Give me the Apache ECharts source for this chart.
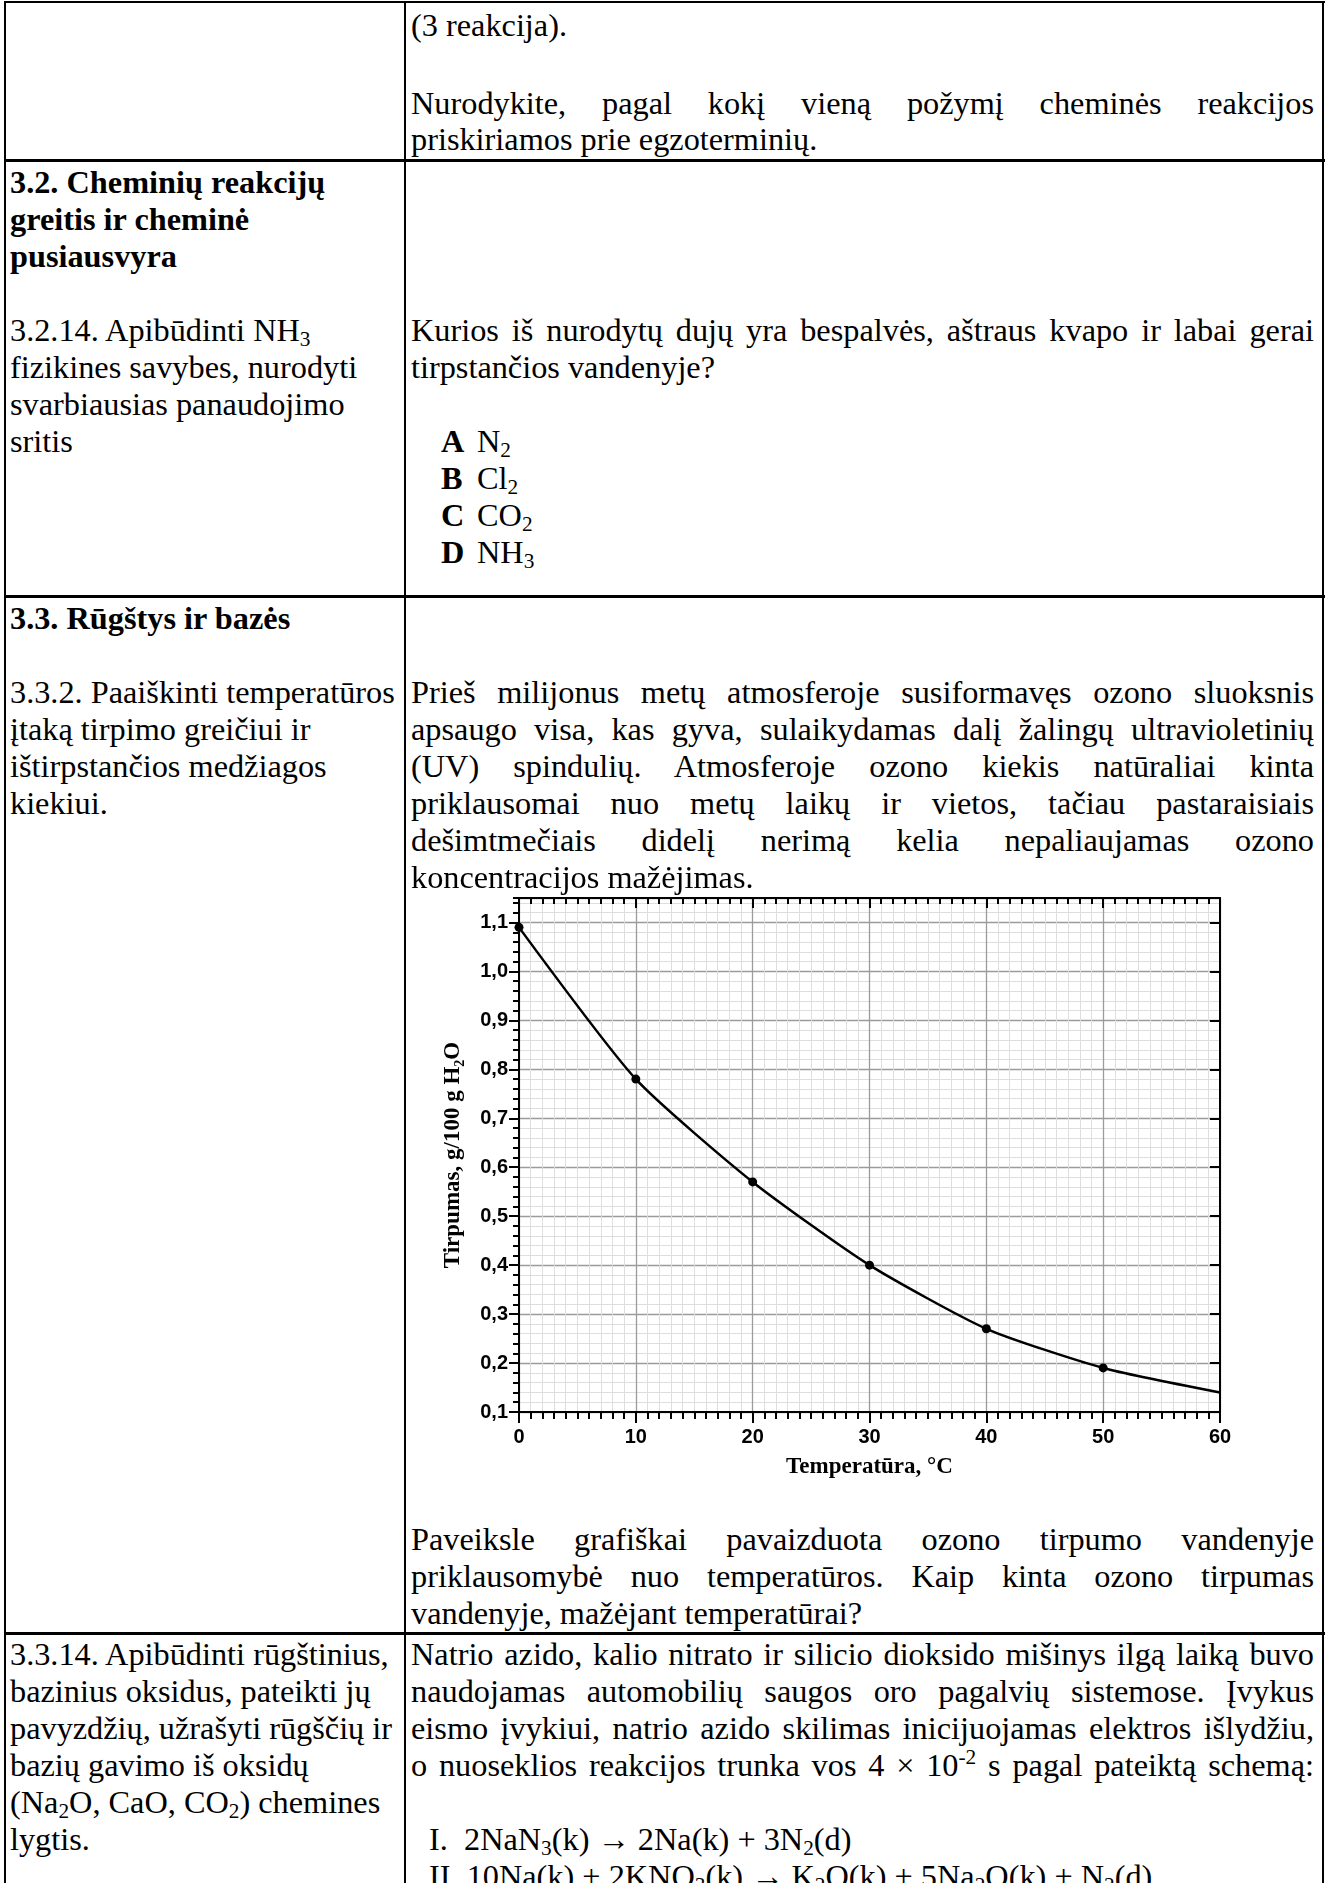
<!DOCTYPE html>
<html lang="lt">
<head>
<meta charset="utf-8">
<script src="https://cdn.jsdelivr.net/npm/echarts@6/dist/echarts.min.js"></script>
<style>
  html, body { margin: 0; padding: 0; background: #fff; }
  #page { position: relative; width: 1329px; height: 1883px; overflow: hidden; background: #fff;
          font-family: "Liberation Serif", "Times New Roman", serif; font-size: 32.3px; color: #000; }
  .ln { position: absolute; height: 37px; line-height: 37px; white-space: nowrap; }
  .j { white-space: normal; text-align: justify; text-align-last: justify; overflow: hidden; }
  .hl { position: absolute; background: #000; }
  sub { font-size: 0.66em; line-height: 0; vertical-align: -0.22em; }
  sup { font-size: 0.66em; line-height: 0; vertical-align: 0.55em; }
  #chart { position: absolute; left: 405px; top: 870px; width: 918px; height: 640px; }
</style>
</head>
<body>
<div id="page">
  <div id="chart"></div>
</div>
<script>
// ---------- chart data ----------
const temperatures = [0, 10, 20, 30, 40, 50, 60];
const solubility   = [1.09, 0.78, 0.57, 0.40, 0.27, 0.19, 0.14];
const xTickLabels  = ['0', '10', '20', '30', '40', '50', '60'];
const yTickLabels  = ['0,1', '0,2', '0,3', '0,4', '0,5', '0,6', '0,7', '0,8', '0,9', '1,0', '1,1'];
const xTitle = 'Temperatūra, °C';
const yTitle = 'Tirpumas, g/100 g H{s|2}O';

// ---------- page text layout ----------
const C1 = 10, C2 = 411, W2 = 903;
const P = 37;
// [column, centerY, html, justify, dx]
const lines = [
  [2, 25, '(3 reakcija).'],
  [2, 103, 'Nurodykite, pagal kokį vieną požymį cheminės reakcijos', 1],
  [2, 139, 'priskiriamos prie egzoterminių.'],
  [1, 182, '<b>3.2. Cheminių reakcijų</b>'],
  [1, 219, '<b>greitis ir cheminė</b>'],
  [1, 256, '<b>pusiausvyra</b>'],
  [1, 330, '3.2.14. Apibūdinti NH<sub>3</sub>'],
  [1, 367, 'fizikines savybes, nurodyti'],
  [1, 404, 'svarbiausias panaudojimo'],
  [1, 441, 'sritis'],
  [2, 330, 'Kurios iš nurodytų dujų yra bespalvės, aštraus kvapo ir labai gerai', 1],
  [2, 367, 'tirpstančios vandenyje?'],
  [2, 441, '<b>A</b>', 0, 30],
  [2, 441, 'N<sub>2</sub>', 0, 66],
  [2, 478, '<b>B</b>', 0, 30],
  [2, 478, 'Cl<sub>2</sub>', 0, 66],
  [2, 515, '<b>C</b>', 0, 30],
  [2, 515, 'CO<sub>2</sub>', 0, 66],
  [2, 552, '<b>D</b>', 0, 30],
  [2, 552, 'NH<sub>3</sub>', 0, 66],
  [1, 618, '<b>3.3. Rūgštys ir bazės</b>'],
  [1, 692, '3.3.2. Paaiškinti temperatūros'],
  [1, 729, 'įtaką tirpimo greičiui ir'],
  [1, 766, 'ištirpstančios medžiagos'],
  [1, 803, 'kiekiui.'],
  [2, 692, 'Prieš milijonus metų atmosferoje susiformavęs ozono sluoksnis', 1],
  [2, 729, 'apsaugo visa, kas gyva, sulaikydamas dalį žalingų ultravioletinių', 1],
  [2, 766, '(UV) spindulių. Atmosferoje ozono kiekis natūraliai kinta', 1],
  [2, 803, 'priklausomai nuo metų laikų ir vietos, tačiau pastaraisiais', 1],
  [2, 840, 'dešimtmečiais didelį nerimą kelia nepaliaujamas ozono', 1],
  [2, 877, 'koncentracijos mažėjimas.'],
  [2, 1539, 'Paveiksle grafiškai pavaizduota ozono tirpumo vandenyje', 1],
  [2, 1576, 'priklausomybė nuo temperatūros. Kaip kinta ozono tirpumas', 1],
  [2, 1613, 'vandenyje, mažėjant temperatūrai?'],
  [1, 1654, '3.3.14. Apibūdinti rūgštinius,'],
  [1, 1691, 'bazinius oksidus, pateikti jų'],
  [1, 1728, 'pavyzdžių, užrašyti rūgščių ir'],
  [1, 1765, 'bazių gavimo iš oksidų'],
  [1, 1802, '(Na<sub>2</sub>O, CaO, CO<sub>2</sub>) chemines'],
  [1, 1839, 'lygtis.'],
  [2, 1654, 'Natrio azido, kalio nitrato ir silicio dioksido mišinys ilgą laiką buvo', 1],
  [2, 1691, 'naudojamas automobilių saugos oro pagalvių sistemose. Įvykus', 1],
  [2, 1728, 'eismo įvykiui, natrio azido skilimas inicijuojamas elektros išlydžiu,', 1],
  [2, 1765, 'o nuoseklios reakcijos trunka vos 4 × 10<sup>-2</sup> s pagal pateiktą schemą:', 1],
  [2, 1839, 'I.&nbsp; 2NaN<sub>3</sub>(k) → 2Na(k) + 3N<sub>2</sub>(d)', 0, 18],
  [2, 1876, 'II. 10Na(k) + 2KNO<sub>3</sub>(k) → K<sub>2</sub>O(k) + 5Na<sub>2</sub>O(k) + N<sub>2</sub>(d)', 0, 18]
];
// table rules: [x, y, w, h]
const rules = [
  [4, 1, 1321, 2],
  [4, 159, 1321, 3],
  [4, 595, 1321, 3],
  [4, 1632, 1321, 3],
  [4, 1, 2, 1882],
  [404, 1, 2, 1882],
  [1322, 1, 2, 1882]
];

const page = document.getElementById('page');
rules.forEach(r => {
  const d = document.createElement('div');
  d.className = 'hl';
  d.style.left = r[0] + 'px'; d.style.top = r[1] + 'px';
  d.style.width = r[2] + 'px'; d.style.height = r[3] + 'px';
  page.appendChild(d);
});
lines.forEach(l => {
  const d = document.createElement('div');
  d.className = 'ln' + (l[3] ? ' j' : '');
  const x0 = (l[0] === 1 ? C1 : C2) + (l[4] || 0);
  d.style.left = x0 + 'px';
  d.style.top = (l[1] - P / 2) + 'px';
  if (l[3]) d.style.width = W2 + 'px';
  d.innerHTML = l[2];
  page.appendChild(d);
});

// ---------- chart ----------
const chart = echarts.init(document.getElementById('chart'), null, { renderer: 'canvas' });
const black = '#000';
const labelFont = { fontFamily: 'Liberation Sans, Arial, sans-serif', fontWeight: 'bold', fontSize: 20, color: black };
const titleFont = { fontFamily: 'Liberation Serif, Times New Roman, serif', fontWeight: 'bold', fontSize: 23, color: black };

function yLabel(v) {
  const i = Math.round((v - 0.1) / 0.1);
  if (Math.abs(v - (0.1 + i * 0.1)) < 1e-6 && i >= 0 && i < yTickLabels.length) return yTickLabels[i];
  return '';
}
function xLabel(v) {
  const i = temperatures.indexOf(v);
  return i >= 0 ? xTickLabels[i] : '';
}

chart.setOption({
  backgroundColor: 'transparent',
  animation: false,
  grid: { left: 114, top: 28, width: 701, height: 514, containLabel: false },
  xAxis: [
    {
      type: 'value', position: 'bottom', min: 0, max: 60, interval: 10,
      axisLine: { onZero: false, lineStyle: { color: black, width: 2 } },
      axisTick: { inside: false, length: 11, lineStyle: { color: black, width: 2 } },
      minorTick: { show: true, splitNumber: 10, length: 7, lineStyle: { color: black, width: 2 } },
      splitLine: { show: true, lineStyle: { color: '#9b9b9b', width: 1.3 } },
      minorSplitLine: { show: true, lineStyle: { color: '#dedede', width: 1 } },
      axisLabel: Object.assign({ margin: 15, formatter: xLabel }, labelFont),
      name: xTitle, nameLocation: 'middle', nameGap: 44, nameTextStyle: titleFont
    },
    {
      type: 'value', position: 'top', min: 0, max: 60, interval: 10,
      axisLine: { onZero: false, lineStyle: { color: black, width: 2 } },
      axisTick: { inside: true, length: 10, lineStyle: { color: black, width: 2 } },
      minorTick: { show: true, splitNumber: 10, length: 6, lineStyle: { color: black, width: 2 } },
      splitLine: { show: false }, axisLabel: { show: false }
    }
  ],
  yAxis: [
    {
      type: 'value', position: 'left', min: 0.1, max: 1.15, interval: 0.02,
      axisLine: { show: false },
      axisTick: { inside: false, length: 6, lineStyle: { color: black, width: 2 } },
      splitLine: { show: true, lineStyle: { color: '#dedede', width: 1 } },
      axisLabel: { show: false }
    },
    {
      type: 'value', position: 'left', min: 0.1, max: 1.15, interval: 0.1,
      axisLine: { show: true, onZero: false, lineStyle: { color: black, width: 2 } },
      axisTick: { inside: false, length: 10, lineStyle: { color: black, width: 2 } },
      splitLine: { show: true, lineStyle: { color: '#9b9b9b', width: 1.3 } },
      axisLabel: Object.assign({ margin: 11, formatter: yLabel, showMaxLabel: false }, labelFont),
      name: yTitle, nameLocation: 'middle', nameGap: 52,
      nameTextStyle: Object.assign({ lineHeight: 28, rich: {
        s: { fontFamily: 'Liberation Serif, serif', fontWeight: 'bold', fontSize: 14, lineHeight: 14, verticalAlign: 'bottom', color: black }
      } }, titleFont)
    },
    {
      type: 'value', position: 'right', min: 0.1, max: 1.15, interval: 0.02,
      axisLine: { show: false },
      axisTick: { inside: true, length: 6, lineStyle: { color: black, width: 2 } },
      splitLine: { show: false }, axisLabel: { show: false }
    },
    {
      type: 'value', position: 'right', min: 0.1, max: 1.15, interval: 0.1,
      axisLine: { show: true, onZero: false, lineStyle: { color: black, width: 2 } },
      axisTick: { inside: true, length: 10, lineStyle: { color: black, width: 2 } },
      splitLine: { show: false }, axisLabel: { show: false }
    }
  ],
  series: [{
    type: 'line',
    xAxisIndex: 0, yAxisIndex: 1,
    data: temperatures.map((t, i) => [t, solubility[i]]),
    smooth: 0.2,
    symbol: 'circle',
    symbolSize: (v, p) => (p.dataIndex === temperatures.length - 1 ? 0 : 9),
    itemStyle: { color: black },
    lineStyle: { color: black, width: 2.5 },
    z: 10
  }]
});
</script>
</body>
</html>
